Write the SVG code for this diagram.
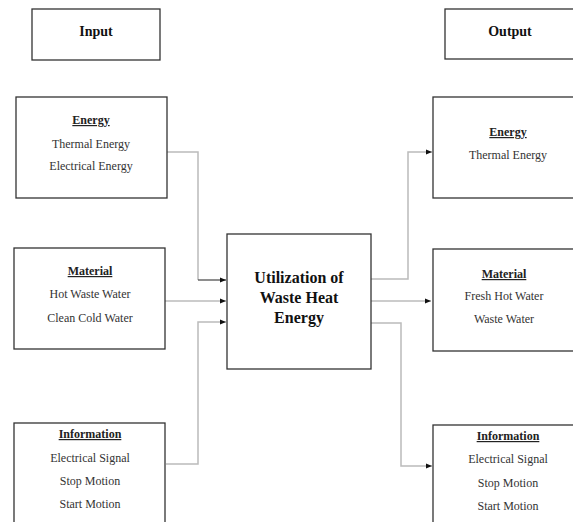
<svg xmlns="http://www.w3.org/2000/svg" width="573" height="522" viewBox="0 0 573 522">
<defs>
<style>
.box{fill:#fff;stroke:#333;stroke-width:1.3}
.t{font-family:"Liberation Serif","Times New Roman",serif;font-size:12px;fill:#333;text-anchor:middle}
.h{font-family:"Liberation Serif","Times New Roman",serif;font-size:12px;font-weight:bold;fill:#222;text-anchor:middle;text-decoration:underline}
.ttl{font-family:"Liberation Serif","Times New Roman",serif;font-size:14px;font-weight:bold;fill:#111;text-anchor:middle}
.ctr{font-family:"Liberation Serif","Times New Roman",serif;font-size:16px;font-weight:bold;fill:#111;text-anchor:middle}
.c{fill:none;stroke:#bbb;stroke-width:1.5}
</style>
<marker id="ah" viewBox="0 0 10 10" refX="10" refY="5" markerWidth="6" markerHeight="6" orient="auto" markerUnits="userSpaceOnUse"><path d="M0,1 L10,5 L0,9 Z" fill="#111"/></marker>
</defs>
<rect width="573" height="522" fill="#fff"/>
<g id="connectors">
<path class="c" d="M167,152 H198 V280"/>
<path d="M198,280 H226" fill="none" stroke="#444" stroke-width="1.2" marker-end="url(#ah)"/>
<path class="c" d="M165,301 H226" marker-end="url(#ah)"/>
<path class="c" d="M166,464 H198 V322 H226" marker-end="url(#ah)"/>
<path class="c" d="M371,279 H408 V152 H432" marker-end="url(#ah)"/>
<path class="c" d="M371,301 H431" marker-end="url(#ah)"/>
<path class="c" d="M371,323 H401 V466 H432" marker-end="url(#ah)"/>
</g>
<g id="input-title">
<rect class="box" x="32" y="9" width="128" height="51"/>
<text class="ttl" x="96" y="36">Input</text>
</g>
<g id="output-title">
<rect class="box" x="445" y="9" width="140" height="50"/>
<text class="ttl" x="510" y="36">Output</text>
</g>
<g id="in-energy">
<rect class="box" x="16" y="97" width="151" height="101"/>
<text class="h" x="91" y="124">Energy</text>
<text class="t" x="91" y="148">Thermal Energy</text>
<text class="t" x="91" y="170">Electrical Energy</text>
</g>
<g id="in-material">
<rect class="box" x="14" y="248" width="151" height="101"/>
<text class="h" x="90" y="275">Material</text>
<text class="t" x="90" y="298">Hot Waste Water</text>
<text class="t" x="90" y="322">Clean Cold Water</text>
</g>
<g id="in-information">
<rect class="box" x="14" y="423" width="151" height="110"/>
<text class="h" x="90" y="438">Information</text>
<text class="t" x="90" y="462">Electrical Signal</text>
<text class="t" x="90" y="485">Stop Motion</text>
<text class="t" x="90" y="508">Start Motion</text>
</g>
<g id="center">
<rect class="box" x="227" y="234" width="144" height="135"/>
<text class="ctr" x="299" y="283">Utilization of</text>
<text class="ctr" x="299" y="303">Waste Heat</text>
<text class="ctr" x="299" y="323">Energy</text>
</g>
<g id="out-energy">
<rect class="box" x="433" y="97" width="150" height="101"/>
<text class="h" x="508" y="136">Energy</text>
<text class="t" x="508" y="159">Thermal Energy</text>
</g>
<g id="out-material">
<rect class="box" x="433" y="249" width="150" height="102"/>
<text class="h" x="504" y="278">Material</text>
<text class="t" x="504" y="300">Fresh Hot Water</text>
<text class="t" x="504" y="323">Waste Water</text>
</g>
<g id="out-information">
<rect class="box" x="433" y="425" width="150" height="110"/>
<text class="h" x="508" y="440">Information</text>
<text class="t" x="508" y="463">Electrical Signal</text>
<text class="t" x="508" y="487">Stop Motion</text>
<text class="t" x="508" y="510">Start Motion</text>
</g>
</svg>
